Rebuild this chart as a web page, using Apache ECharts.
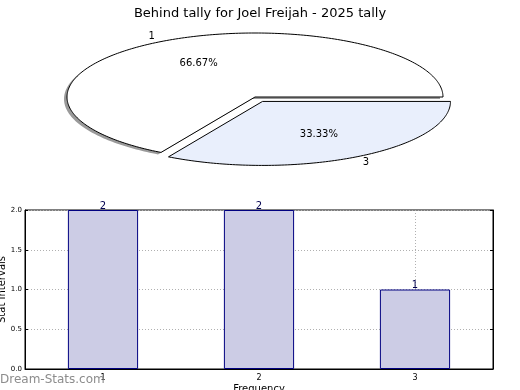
<!DOCTYPE html>
<html><head><meta charset="utf-8">
<script src="https://cdn.jsdelivr.net/npm/echarts@6/dist/echarts.min.js"></script>
<style>html,body{margin:0;padding:0;background:#fff}#c{width:520px;height:390px}</style>
</head><body><div id="c"></div>
<script>
var titleText = 'Behind tally for Joel Freijah - 2025 tally';
var pieNames = ['1', '3'];
var pieValues = [2, 1];
var pieColors = ['#ffffff', '#e9effc'];
var pieExplode = [0, 15];
var pieShadow = [true, false];
var barCategories = ['1', '2', '3'];
var barValues = [2, 2, 1];

var FONT = 'DejaVu Sans';
var pieCx = 255, pieCy = 97, pieRx = 188, pieRy = 64;
var total = pieValues.reduce(function (a, b) { return a + b; }, 0);
var cum = [];
(function () { var s = 0; for (var i = 0; i < pieValues.length; i++) { cum.push(s); s += pieValues[i]; } })();

function wedgePoints(ox, oy, aStart, aEnd) {
  // screen angles, going counter-clockwise on screen (negative direction)
  var pts = [[ox, oy]];
  var n = Math.max(8, Math.ceil((aEnd - aStart) / (Math.PI / 180)));
  for (var j = 0; j <= n; j++) {
    var a = -(aStart + (aEnd - aStart) * j / n);
    pts.push([ox + pieRx * Math.cos(a), oy + pieRy * Math.sin(a)]);
  }
  return pts;
}

function renderPie(params, api) {
  var i = params.dataIndex;
  var a0 = cum[i] / total * Math.PI * 2;
  var a1 = (cum[i] + pieValues[i]) / total * Math.PI * 2;
  var mid = -(a0 + a1) / 2;
  var k = pieRy / pieRx;
  var d = pieExplode[i];
  var ox = pieCx + d * Math.cos(mid);
  var oy = pieCy + d * Math.sin(mid) * k;
  var pct = (pieValues[i] / total * 100).toFixed(2) + '%';
  var children = [];
  if (pieShadow[i]) {
    children.push({
      type: 'polygon', shape: { points: wedgePoints(ox - 3, oy + 2, a0, a1) },
      style: { fill: '#9a9a9a', stroke: null }
    });
  }
  children.push({
    type: 'polygon', shape: { points: wedgePoints(ox, oy, a0, a1) },
    style: { fill: pieColors[i], stroke: '#000', lineWidth: 1, lineJoin: 'miter' }
  });
  children.push({
    type: 'text',
    x: ox + 1.1 * pieRx * Math.cos(mid), y: oy + 1.1 * pieRy * Math.sin(mid),
    style: { text: pieNames[i], fill: '#000', font: '10px "' + FONT + '"', align: 'center', verticalAlign: 'middle' }
  });
  children.push({
    type: 'text',
    x: ox + 0.6 * pieRx * Math.cos(mid), y: oy + 0.6 * pieRy * Math.sin(mid),
    style: { text: pct, fill: '#000', font: '10px "' + FONT + '"', align: 'center', verticalAlign: 'middle' }
  });
  return { type: 'group', children: children };
}

var chart = echarts.init(document.getElementById('c'), null, { renderer: 'canvas' });
chart.setOption({
  animation: false,
  backgroundColor: '#fff',
  textStyle: { fontFamily: FONT },
  title: {
    text: titleText, left: 'center', top: 2,
    textStyle: { fontFamily: FONT, fontSize: 13, fontWeight: 'normal', color: '#000' }
  },
  graphic: [{
    type: 'text', left: 0, top: 374, z: 100,
    style: { text: 'Dream-Stats.com', fill: '#8c8c8c', font: '12px "' + FONT + '"' }
  }],
  grid: { left: 25, right: 27, top: 210, bottom: 21, outerBoundsMode: 'none', containLabel: false,
    show: true, borderColor: '#000', borderWidth: 1, backgroundColor: 'transparent' },
  xAxis: [{
    type: 'category', data: barCategories, boundaryGap: true,
    name: 'Frequency', nameLocation: 'middle', nameGap: 15, nameMoveOverlap: false,
    nameTextStyle: { fontFamily: FONT, fontSize: 10, color: '#000' },
    axisLine: { lineStyle: { color: '#000' } },
    axisTick: { show: true, alignWithLabel: true, inside: true, length: 3, lineStyle: { color: '#000' } },
    axisLabel: { fontFamily: FONT, fontSize: 8, color: '#000', margin: 5 },
    splitLine: { show: true, alignWithLabel: true, lineStyle: { color: '#b0b0b0', type: [1, 2], width: 1 } }
  }],
  yAxis: [{
    type: 'value', min: 0, max: 2, interval: 0.5,
    name: 'Stat Intervals', nameLocation: 'middle', nameGap: 18, nameRotate: 90, nameMoveOverlap: false,
    nameTextStyle: { fontFamily: FONT, fontSize: 10, color: '#000' },
    axisLine: { show: true, lineStyle: { color: '#000' } },
    axisTick: { show: true, inside: true, length: 3, lineStyle: { color: '#000' } },
    axisLabel: { fontFamily: FONT, fontSize: 7, color: '#000', margin: 3, formatter: function (v) { return v.toFixed(1); } },
    splitLine: { show: true, lineStyle: { color: '#b0b0b0', type: [1, 2], width: 1 } }
  }, {
    type: 'value', min: 0, max: 2, interval: 0.5, position: 'right',
    axisLine: { show: true, lineStyle: { color: '#000' } },
    axisTick: { show: true, inside: true, length: 3, lineStyle: { color: '#000' } },
    axisLabel: { show: false }, splitLine: { show: false }
  }],
  series: [{
    type: 'bar', data: barValues, barWidth: '45%', xAxisIndex: 0, yAxisIndex: 0,
    itemStyle: { color: '#ccccE5', borderColor: '#000080', borderWidth: 1 },
    label: { show: true, position: 'top', distance: -1, color: '#000050', fontFamily: FONT, fontSize: 10 }
  }, {
    type: 'custom', coordinateSystem: 'none', renderItem: renderPie,
    data: pieValues.map(function (v, i) { return { name: pieNames[i], value: v }; }),
    silent: true, z: 3
  }]
});
</script></body></html>
